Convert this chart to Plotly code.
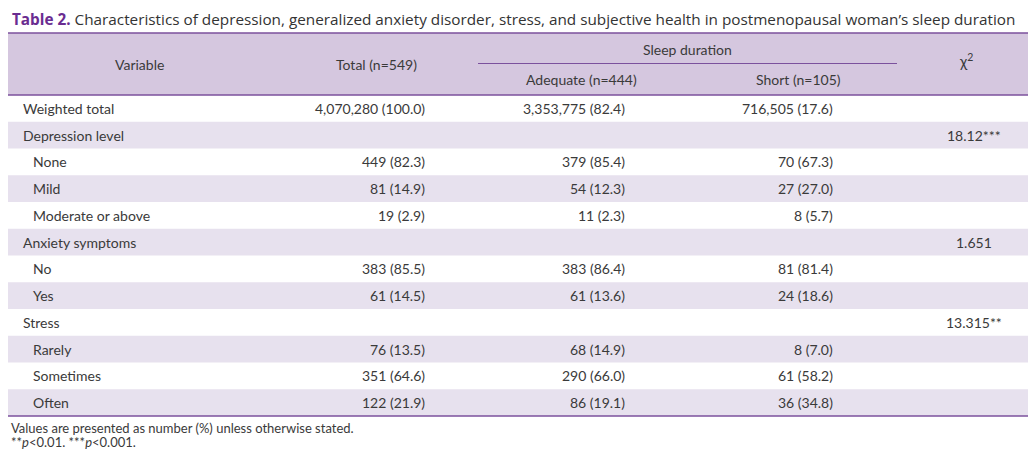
import plotly.graph_objects as go

# ---- data ----
title_bold = "Table 2."
title_rest = " Characteristics of depression, generalized anxiety disorder, stress, and subjective health in postmenopausal woman’s sleep duration"
col_headers = ["Variable", "Total (n=549)", "Adequate (n=444)", "Short (n=105)", "χ<sup>2</sup>"]
group_header = "Sleep duration"
variables = ["Weighted total", "Depression level", "None", "Mild", "Moderate or above",
             "Anxiety symptoms", "No", "Yes", "Stress", "Rarely", "Sometimes", "Often"]
indent = [0, 0, 1, 1, 1, 0, 1, 1, 0, 1, 1, 1]
total = ["4,070,280 (100.0)", "", "449 (82.3)", "81 (14.9)", "19 (2.9)", "",
         "383 (85.5)", "61 (14.5)", "", "76 (13.5)", "351 (64.6)", "122 (21.9)"]
adequate = ["3,353,775 (82.4)", "", "379 (85.4)", "54 (12.3)", "11 (2.3)", "",
            "383 (86.4)", "61 (13.6)", "", "68 (14.9)", "290 (66.0)", "86 (19.1)"]
short = ["716,505 (17.6)", "", "70 (67.3)", "27 (27.0)", "8 (5.7)", "",
         "81 (81.4)", "24 (18.6)", "", "8 (7.0)", "61 (58.2)", "36 (34.8)"]
chi2 = ["", "18.12***", "", "", "", "1.651", "", "", "13.315**", "", "", ""]
footnotes = ["Values are presented as number (%) unless otherwise stated.",
             "**<i>p</i>&lt;0.01. ***<i>p</i>&lt;0.001."]

# ---- style / layout constants ----
W, H = 1036, 453
TABLE_X1 = 1030
TXT = "#3a3a3a"
PURPLE = "#6a2c91"
LINE = "#7b519d"
HEAD_BG = "#d5c7df"
ROW_BG = "#e7e1ee"
BODY_FONT = "Lato"
FS = 14
header_top, header_bot = 25, 87
row_h = 26.75
span_x0, span_x1 = 470, 889
head_x = [131, 368, 573, 790, 958]
val_right = [419, 619, 827]
chi_val_x = 966

fig = go.Figure()
shapes = []
ann = []

def add_text(x, y, text, xanchor="center", size=FS, color=TXT, font=BODY_FONT):
    ann.append(dict(x=x, y=y, xref="x", yref="y", text=text, showarrow=False,
                    xanchor=xanchor, yanchor="middle",
                    font=dict(family=font, size=size, color=color)))

# header background
shapes.append(dict(type="rect", xref="x", yref="y", x0=0, x1=TABLE_X1, y0=header_top, y1=header_bot,
                   fillcolor=HEAD_BG, line=dict(width=0), layer="below"))
# row shading
n = len(variables)
for i in range(n):
    if i % 2 == 1:
        y0 = header_bot + i * row_h
        shapes.append(dict(type="rect", xref="x", yref="y", x0=0, x1=TABLE_X1, y0=y0, y1=y0 + row_h,
                           fillcolor=ROW_BG, line=dict(width=0), layer="below"))
# lines
table_bot = header_bot + n * row_h
for yy in (header_top, header_bot, table_bot):
    shapes.append(dict(type="line", xref="x", yref="y", x0=0, x1=TABLE_X1, y0=yy, y1=yy,
                       line=dict(color=LINE, width=1.6)))
mid = (header_top + header_bot) / 2
shapes.append(dict(type="line", xref="x", yref="y", x0=span_x0, x1=span_x1, y0=mid - 0.5, y1=mid - 0.5,
                   line=dict(color=LINE, width=1.2)))

# title
ann.append(dict(x=2, y=11, xref="x", yref="y", showarrow=False, xanchor="left", yanchor="middle",
                text=f"<b><span style='color:{PURPLE}'>{title_bold}</span></b>{title_rest}",
                font=dict(family="Open Sans", size=15.3, color="#333333")))

# headers
add_text(head_x[0], mid, col_headers[0])
add_text(head_x[1], mid, col_headers[1])
add_text(head_x[4], mid - 4, col_headers[4], size=15)
add_text((span_x0 + span_x1) / 2, (header_top + mid) / 2 + 0.5, group_header)
add_text(head_x[2], (mid + header_bot) / 2, col_headers[2])
add_text(head_x[3], (mid + header_bot) / 2, col_headers[3])

# body
for i in range(n):
    yc = header_bot + (i + 0.5) * row_h
    add_text(13 + 10 * indent[i], yc, variables[i], xanchor="left")
    for vals, xr in zip((total, adequate, short), val_right):
        if vals[i]:
            add_text(xr, yc, vals[i], xanchor="right")
    if chi2[i]:
        add_text(chi_val_x, yc, chi2[i])

# footnotes
for k, t in enumerate(footnotes):
    add_text(1, table_bot + 12 + k * 14, t, xanchor="left", size=13)

fig.update_layout(
    width=W, height=H, margin=dict(l=0, r=0, t=0, b=0),
    paper_bgcolor="white", plot_bgcolor="white",
    xaxis=dict(range=[0, W], visible=False, fixedrange=True),
    yaxis=dict(range=[H, 0], visible=False, fixedrange=True),
    shapes=shapes, annotations=ann, showlegend=False,
)
fig.write_html("out.html")
